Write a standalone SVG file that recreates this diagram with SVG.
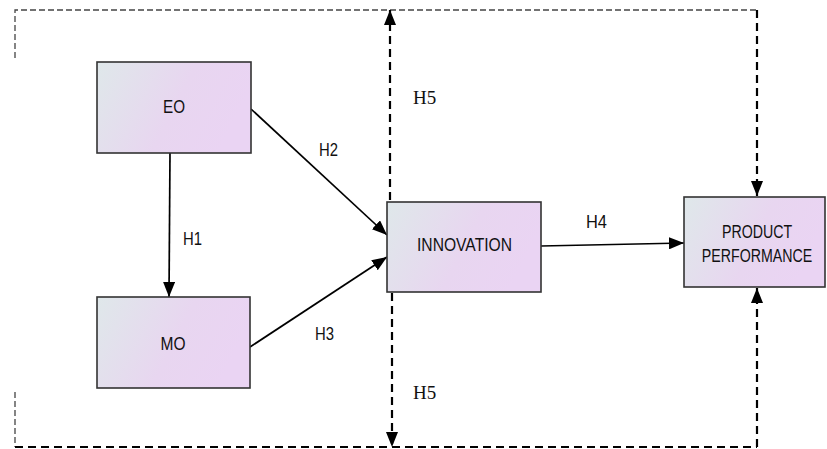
<svg xmlns="http://www.w3.org/2000/svg" width="827" height="449" viewBox="0 0 827 449">
<defs>
<linearGradient id="g" x1="0" y1="0" x2="1" y2="0.3">
<stop offset="0" stop-color="#dfe8ea"/>
<stop offset="0.6" stop-color="#e8d6f0"/>
<stop offset="1" stop-color="#ead4f3"/>
</linearGradient>
<marker id="a" markerUnits="userSpaceOnUse" markerWidth="15" markerHeight="12" refX="15" refY="6" orient="auto">
<path d="M0,0 L15,6 L0,12 z" fill="#000"/>
</marker>
<style>
.box{fill:url(#g);stroke:#333;stroke-width:1.6}
.lbl{font-family:"Liberation Sans",Arial,sans-serif;font-size:18px;fill:#111;text-anchor:middle}
.lbs{font-family:"Liberation Sans",Arial,sans-serif;font-size:14.2px;fill:#111;text-anchor:middle}
.h{font-family:"Liberation Sans",Arial,sans-serif;font-size:18px;fill:#111}
.hs{font-family:"Liberation Serif","Times New Roman",serif;font-size:19px;fill:#111}
.solid{stroke:#000;stroke-width:1.7;fill:none}
.thin{stroke:#444;stroke-width:1.3;fill:none;stroke-dasharray:6 3}
.thick{stroke:#000;stroke-width:2.2;fill:none;stroke-dasharray:8 5}
</style>
</defs>
<g id="connectors">
<polyline class="thin" points="15,58 15,10 757,10"/>
<line class="thick" x1="757" y1="10" x2="757" y2="196" marker-end="url(#a)"/>
<line class="thick" x1="390" y1="200" x2="390" y2="10" marker-end="url(#a)"/>
<line class="thin" x1="15" y1="392" x2="15" y2="447"/>
<line class="thick" x1="15" y1="447" x2="757" y2="447"/>
<line class="thick" x1="392" y1="293" x2="392" y2="447" marker-end="url(#a)"/>
<line class="thick" x1="757" y1="447" x2="757" y2="288" marker-end="url(#a)"/>
<line class="solid" x1="170" y1="153" x2="169" y2="297" marker-end="url(#a)"/>
<line class="solid" x1="251" y1="109" x2="387" y2="235" marker-end="url(#a)"/>
<line class="solid" x1="250" y1="347" x2="387" y2="257" marker-end="url(#a)"/>
<line class="solid" x1="541" y1="246" x2="684" y2="243" marker-end="url(#a)"/>
<text class="h" x="183" y="245" textLength="19" lengthAdjust="spacingAndGlyphs">H1</text>
<text class="h" x="319" y="156" textLength="19" lengthAdjust="spacingAndGlyphs">H2</text>
<text class="h" x="315" y="340" textLength="19" lengthAdjust="spacingAndGlyphs">H3</text>
<text class="h" x="586" y="228" textLength="21" lengthAdjust="spacingAndGlyphs">H4</text>
<text class="hs" x="413" y="104">H5</text>
<text class="hs" x="413" y="399">H5</text>
</g>
<g id="eo">
<rect class="box" x="97" y="62" width="154" height="91"/>
<text class="lbl" x="174" y="113" textLength="22" lengthAdjust="spacingAndGlyphs">EO</text>
</g>
<g id="mo">
<rect class="box" x="97" y="297" width="153" height="91"/>
<text class="lbl" x="173" y="350" textLength="25" lengthAdjust="spacingAndGlyphs">MO</text>
</g>
<g id="innovation">
<rect class="box" x="387" y="202" width="154" height="90"/>
<text class="lbl" x="464.5" y="251" textLength="95" lengthAdjust="spacingAndGlyphs">INNOVATION</text>
</g>
<g id="product">
<rect class="box" x="684" y="197" width="141" height="90"/>
<text class="lbs" transform="translate(757,238) scale(1,1.27)">PRODUCT</text>
<text class="lbs" transform="translate(757,262) scale(1,1.27)">PERFORMANCE</text>
</g>
</svg>
